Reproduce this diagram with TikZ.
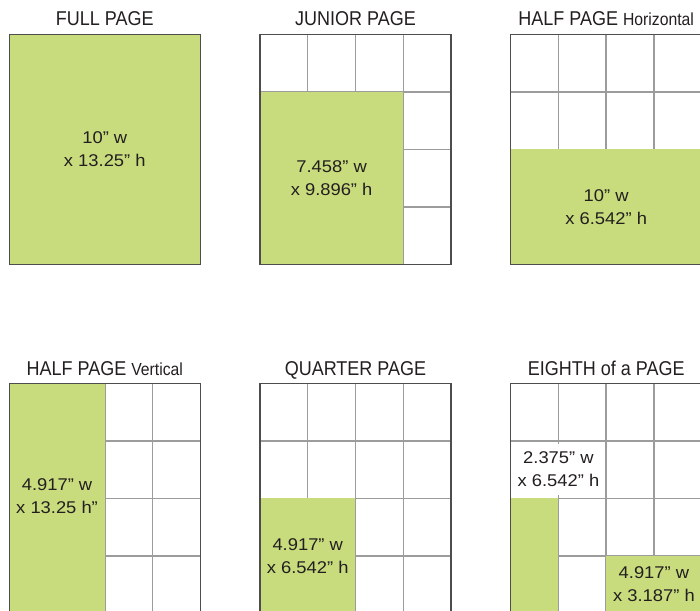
\documentclass[tikz,border=0pt]{standalone}
\usepackage{fontspec}
\setmainfont{Liberation Sans}
\newfontfamily\titlefont[FakeStretch=0.9]{Liberation Sans}
\newfontfamily\sizefont[FakeStretch=1.08]{Liberation Sans}
\usepackage{tikz}
\usetikzlibrary{positioning}
\definecolor{adgreen}{HTML}{C8DC7D}
\definecolor{framegray}{HTML}{4D4D4D}
\definecolor{cellgray}{HTML}{9C9C9C}
\definecolor{inkgray}{HTML}{231F20}

\begin{document}
\begin{tikzpicture}[x=47.75pt,y=-57.5pt,
    frame/.style={draw=framegray,line width=1.6pt},
    cell/.style={draw=cellgray,line width=1.4pt},
    ad/.style={fill=adgreen},
    title/.style={anchor=base,text=inkgray,font=\titlefont\fontsize{20}{24}\selectfont},
    size/.style={align=center,text=inkgray,font=\sizefont\fontsize{17}{23}\selectfont}]
  \useasboundingbox (0,0) rectangle (14.66,10.61);
  \clip (0,0) rectangle (14.66,10.61);
  % top row
  \begin{scope}[shift={(0.195,0.597)}]
    \fill[ad] (0,0) rectangle (4,4);
    \draw[frame] (0,0) rectangle (4,4);
    \node[size] (fullsize) at (2,2) {10” w\\x 13.25” h};
  \end{scope}
  \node[title] (fulltitle) at (2.195,0.452) {FULL PAGE};
  \begin{scope}[shift={(5.445,0.597)}]
    \foreach \i in {1,2,3} {
      \draw[cell] (\i,0) -- (\i,4);
      \draw[cell] (0,\i) -- (4,\i);
    }
    \fill[ad] (0,1) rectangle (3,4);
    \draw[frame] (0,0) rectangle (4,4);
    \node[size] (juniorsize) at (1.5,2.5) {7.458” w\\x 9.896” h};
  \end{scope}
  \node[title] (juniortitle) at (7.445,0.452) {JUNIOR PAGE};
  \begin{scope}[shift={(10.695,0.597)}]
    \foreach \i in {1,2,3} {
      \draw[cell] (\i,0) -- (\i,4);
      \draw[cell] (0,\i) -- (4,\i);
    }
    \fill[ad] (0,2) rectangle (4,4);
    \draw[frame] (0,0) rectangle (4,4);
    \node[size] (hhsize) at (2,3) {10” w\\x 6.542” h};
  \end{scope}
  \node[title] (hhtitle) at (12.695,0.452) {HALF PAGE {\fontsize{17.5}{20}\selectfont Horizontal}};
  % bottom row
  \begin{scope}[shift={(0.195,6.667)}]
    \foreach \i in {1,2,3} {
      \draw[cell] (\i,0) -- (\i,4);
      \draw[cell] (0,\i) -- (4,\i);
    }
    \fill[ad] (0,0) rectangle (2,4);
    \draw[frame] (0,0) rectangle (4,4);
    \node[size] (hvsize) at (1,1.97) {4.917” w\\x 13.25 h”};
  \end{scope}
  \node[title] (hvtitle) at (2.195,6.522) {HALF PAGE {\fontsize{17.5}{20}\selectfont Vertical}};
  \begin{scope}[shift={(5.445,6.667)}]
    \foreach \i in {1,2,3} {
      \draw[cell] (\i,0) -- (\i,4);
      \draw[cell] (0,\i) -- (4,\i);
    }
    \fill[ad] (0,2) rectangle (2,4);
    \draw[frame] (0,0) rectangle (4,4);
    \node[size] (quartersize) at (1,3) {4.917” w\\x 6.542” h};
  \end{scope}
  \node[title] (quartertitle) at (7.445,6.522) {QUARTER PAGE};
  \begin{scope}[shift={(10.695,6.667)}]
    \foreach \i in {1,2,3} {
      \draw[cell] (\i,0) -- (\i,4);
      \draw[cell] (0,\i) -- (4,\i);
    }
    \fill[white] (0.05,1.05) rectangle (1.95,1.95);
    \fill[ad] (0,2) rectangle (1,4);
    \fill[ad] (2,3) rectangle (4,4);
    \draw[frame] (0,0) rectangle (4,4);
    \node[size] (eighthtall) at (1,1.5) {2.375” w\\x 6.542” h};
    \node[size] (eighthwide) at (3,3.5) {4.917” w\\x 3.187” h};
  \end{scope}
  \node[title] (eighthtitle) at (12.695,6.522) {EIGHTH of a PAGE};
\end{tikzpicture}
\end{document}
